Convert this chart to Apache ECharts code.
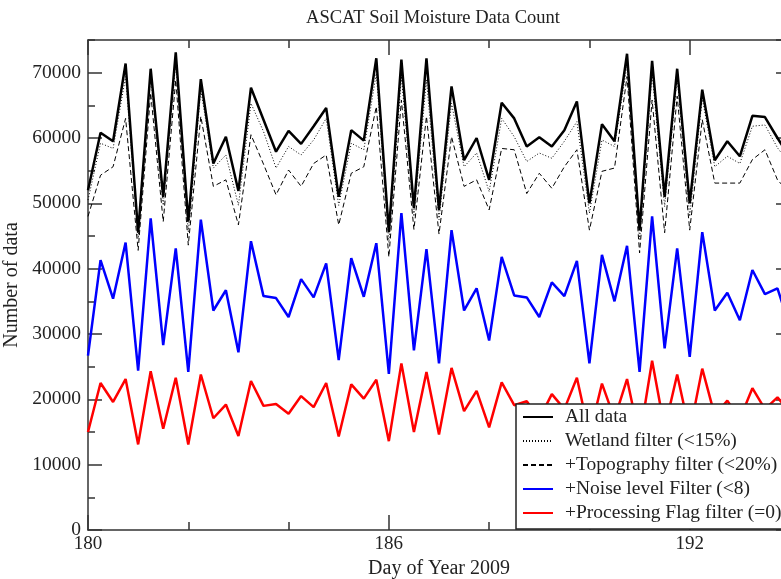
<!DOCTYPE html>
<html>
<head>
<meta charset="utf-8">
<script src="https://cdn.jsdelivr.net/npm/echarts@6/dist/echarts.min.js"></script>
<style>
html,body{margin:0;padding:0;overflow:hidden;background:#fff;}
#chart{width:800px;height:579px;}
</style>
</head>
<body>
<div id="chart"></div>
<script>
var days = [180,180.25,180.5,180.75,181,181.25,181.5,181.75,182,182.25,182.5,182.75,
  183,183.25,183.5,183.75,184,184.25,184.5,184.75,185,185.25,185.5,185.75,
  186,186.25,186.5,186.75,187,187.25,187.5,187.75,188,188.25,188.5,188.75,
  189,189.25,189.5,189.75,190,190.25,190.5,190.75,191,191.25,191.5,191.75,
  192,192.25,192.5,192.75,193,193.25,193.5,193.75,194];

var allData = [52000,60800,59500,71400,45500,70600,51000,73100,47200,69000,56100,60200,
  51900,67700,62800,57900,61100,59100,61800,64600,51000,61200,59600,72200,
  45600,72000,49300,72200,49000,67900,56600,60000,53600,65400,63000,58700,
  60100,58700,61200,65600,50000,62100,59500,72900,45900,71800,51000,70600,
  50000,67400,56600,59500,57200,63400,63200,60000,57000];

var wetland = [50500,59200,58400,69400,44600,69400,49700,71500,45600,67400,55400,57400,
  49700,65300,61000,55400,58700,57400,59700,63000,49700,59200,58200,69900,
  44000,69400,48000,68900,47500,65300,55600,57700,51800,63000,60200,56400,
  57700,56900,59500,62500,48500,59700,58700,71200,44500,69900,49500,69400,
  48000,66100,55600,57200,56100,61800,62000,58500,56000];

var topography = [48000,54300,55600,63000,42800,66900,47200,68900,43600,63300,52600,53600,
  46700,60500,56000,51300,55100,52600,56100,57400,46700,54600,55600,64800,
  41800,65800,46000,63300,45300,60200,52600,53600,49000,58400,58200,51500,
  54600,52300,55600,58200,45900,54900,55400,69400,42400,65800,45500,66400,
  45900,62800,53100,53100,53100,56700,58200,53600,51500];

var noise = [26700,41300,35400,44000,24400,47700,28300,43100,24200,47500,33600,36700,
  27200,44200,35800,35500,32600,38400,35600,40800,26000,41600,35700,43900,
  23900,48500,27500,43000,25500,45900,33600,37000,29000,41800,35900,35600,
  32600,37900,35800,41200,25500,42100,35000,43500,24200,48000,27800,43100,
  26500,45600,33600,36300,32100,39800,36100,37000,31000];

var processing = [15000,22500,19600,23100,13100,24300,15500,23300,13100,23800,17100,19200,
  14400,22800,19000,19300,17800,20500,18800,22500,14300,22300,20100,23000,
  13600,25500,15000,24200,14600,24800,18200,21300,15700,22600,19100,19700,
  17000,20800,18500,23300,14500,22400,17000,23100,14000,25900,15500,23800,
  15000,24700,17500,19800,17000,21700,18500,20300,18000];

var seriesNames = ['All data','Wetland filter (<15%)','+Topography filter (<20%)','+Noise level Filter (<8)','+Processing Flag filter (=0)'];

function pairs(vals){ return days.map(function(d,i){ return [d, vals[i]]; }); }

var FONT = 'Liberation Serif';
var AX = '#333';
function plain(v){ return String(Math.round(v)); }

function xAx(pos, interval, len, labels, line){
  return {type:'value', position:pos, min:180, max:194, interval:interval,
    axisLine:{show:line, onZero:false, lineStyle:{color:AX,width:1.5}},
    axisTick:{show:true, inside:true, length:len, lineStyle:{color:AX,width:1.5}},
    axisLabel:{show:labels, showMaxLabel:false, formatter:plain, color:'#222', fontFamily:FONT, fontSize:19, margin:5},
    splitLine:{show:false}};
}
function yAx(pos, interval, len, labels, line){
  return {type:'value', position:pos, min:0, max:75000, interval:interval,
    axisLine:{show:line, onZero:false, lineStyle:{color:AX,width:1.5}},
    axisTick:{show:true, inside:true, length:len, lineStyle:{color:AX,width:1.5}},
    axisLabel:{show:labels, showMaxLabel:false, formatter:plain, color:'#222', fontFamily:FONT, fontSize:19.5, margin:7},
    splitLine:{show:false}};
}

var xAxes = [xAx('bottom',6,15,true,true), xAx('bottom',2,8,false,false), xAx('top',6,15,false,true), xAx('top',2,8,false,false)];
xAxes[0].name = 'Day of Year 2009';
xAxes[0].nameLocation = 'middle';
xAxes[0].nameGap = 27;
xAxes[0].nameTextStyle = {fontFamily:FONT, fontSize:20, color:'#222'};

var yAxes = [yAx('left',10000,14,true,true), yAx('left',5000,7,false,false), yAx('right',10000,14,false,true), yAx('right',5000,7,false,false)];
yAxes[0].name = 'Number of data';
yAxes[0].nameLocation = 'middle';
yAxes[0].nameGap = 57;
yAxes[0].nameTextStyle = {fontFamily:FONT, fontSize:20, color:'#222'};

var styles = [
  {color:'#000', width:2.5, type:'solid'},
  {color:'#000', width:1, type:[1,2]},
  {color:'#000', width:1, type:[5,3]},
  {color:'#0000ff', width:2.5, type:'solid'},
  {color:'#ff0000', width:2.5, type:'solid'}
];
var dataSets = [allData, wetland, topography, noise, processing];

var series = dataSets.map(function(vals, k){
  return {name:seriesNames[k], type:'line', xAxisIndex:0, yAxisIndex:0,
    data:pairs(vals), symbol:'none', showSymbol:false, animation:false,
    color:styles[k].color,
    lineStyle:{color:styles[k].color, width:styles[k].width, type:styles[k].type}};
});

var chart = echarts.init(document.getElementById('chart'), null, {renderer:'canvas'});
chart.setOption({
  animation:false,
  backgroundColor:'#fff',
  grid:{left:88, right:10, top:40, bottom:49, show:false, containLabel:false, outerBoundsMode:'none'},
  graphic:[{type:'text', x:433, y:18, style:{text:'ASCAT Soil Moisture Data Count', font:'18.5px "Liberation Serif"', fill:'#222', textAlign:'center', textVerticalAlign:'middle'}}],
  legend:{orient:'vertical', left:516, top:404, data:seriesNames,
    backgroundColor:'#fff', borderColor:'#222', borderWidth:1.5, borderRadius:0,
    padding:[3,40,6,6], itemWidth:30, itemHeight:12, itemGap:4,
    itemStyle:{opacity:0},
    textStyle:{fontFamily:FONT, fontSize:19.5, color:'#222', lineHeight:20, padding:[0,0,0,7]}},
  xAxis:xAxes,
  yAxis:yAxes,
  series:series
});
</script>
</body>
</html>
